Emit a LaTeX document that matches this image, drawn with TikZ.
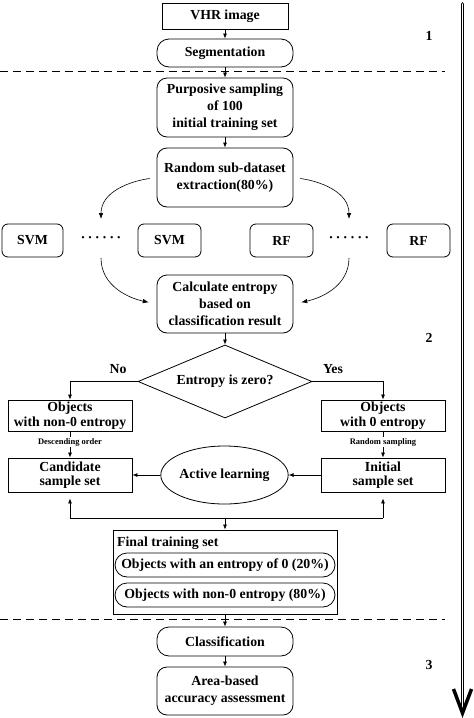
\documentclass[tikz,border=0pt]{standalone}
\usepackage{fontspec}
\setmainfont{Liberation Serif}
\usetikzlibrary{arrows.meta,shapes.geometric,calc}
\newcommand\mfont{\fontsize{13.8}{16.8}\selectfont\bfseries}
\newcommand\tfont{\fontsize{13.8}{14.5}\selectfont\bfseries}
\newcommand\sfont{\fontsize{8.5}{10}\selectfont\bfseries}
\newcommand\dotrow{{\fontsize{8.5}{8.5}\selectfont •\hspace{4.2pt}•\hspace{4.2pt}•\hspace{4.2pt}•\hspace{4.2pt}•\hspace{4.2pt}•}}
\begin{document}
\begin{tikzpicture}[x=1pt,y=-1pt,
  box/.style={draw, line width=0.8pt, font=\mfont, align=center, inner sep=0pt},
  rbox/.style={box, rounded corners=10pt},
  pill/.style={box, rounded corners=12pt},
  arr/.style={-{Latex[length=5pt,width=4pt]}, line width=0.7pt},
  carr/.style={-{Latex[length=6pt,width=4.5pt]}, line width=0.6pt},
  lab/.style={font=\mfont, inner sep=0pt},
  small/.style={font=\sfont, fill=white, inner sep=1pt},
  sep/.style={dash pattern=on 8pt off 5pt, line width=0.8pt}]
\useasboundingbox (0,0) rectangle (474,718);

% separators
\draw[sep] (0,71) -- (445,71);
\draw[sep] (0,619) -- (445,619);

% big side arrow
\draw[double, line width=1.2pt, double distance=1.3pt, line cap=round] (462.5,4) -- (462.5,708);
\draw[line width=3.5pt] (453.5,689) -- (462.5,713) -- (471.5,689);

% phase labels
\node[lab] (p1) at (429,36) {1};
\node[lab] (p2) at (429,338) {2};
\node[lab] (p3) at (429,665) {3};

% nodes
\node[box, minimum width=126pt, minimum height=26pt] (vhr) at (225,16) {VHR image};
\node[pill, minimum width=136pt, minimum height=28pt] (seg) at (225,53) {Segmentation};
\node[rbox, minimum width=136pt, minimum height=59pt] (purp) at (225,107.5) {Purposive sampling\\of 100\\initial training set};
\node[rbox, minimum width=136pt, minimum height=59pt] (rand) at (225,177.5) {Random sub-dataset\\extraction(80\%)};

\node[box, rounded corners=6pt, minimum width=61pt, minimum height=33pt] (svm1) at (32.5,240.5) {SVM};
\node[box, rounded corners=6pt, minimum width=63pt, minimum height=33pt] (svm2) at (169.5,240.5) {SVM};
\node[box, rounded corners=6pt, minimum width=63pt, minimum height=33pt] (rf1) at (281.5,240.5) {RF};
\node[box, rounded corners=6pt, minimum width=63pt, minimum height=33pt] (rf2) at (418.5,240.5) {RF};
\node[lab] (dotsL) at (101,239) {\dotrow};
\node[lab] (dotsR) at (349,239) {\dotrow};

\node[rbox, minimum width=136pt, minimum height=58pt] (calc) at (225,304) {Calculate entropy\\based on\\classification result};
\node[box, diamond, aspect=2.4, minimum width=174pt, minimum height=73pt] (dia) at (225,381.5) {Entropy is zero?};
\node[lab] (no) at (118,369) {No};
\node[lab] (yes) at (333,369) {Yes};

\node[box, font=\tfont, minimum width=124pt, minimum height=31pt] (nz) at (70,415.5) {Objects\\with non-0 entropy};
\node[box, font=\tfont, minimum width=124pt, minimum height=31pt] (z) at (383,415.5) {Objects\\with 0 entropy};
\node[box, font=\tfont, minimum width=124pt, minimum height=34pt] (cand) at (70,475) {Candidate\\sample set};
\node[box, font=\tfont, minimum width=124pt, minimum height=34pt] (init) at (383,475) {Initial\\sample set};
\node[box, ellipse, minimum width=117pt, minimum height=58pt] (al) at (224.5,475) {Active learning};

\node[box, minimum width=224pt, minimum height=84pt] (fin) at (225,572) {};
\node[lab, anchor=west] (fint) at (117,543) {Final training set};
\node[pill, minimum width=220pt, minimum height=24pt] (o1) at (225,565) {Objects with an entropy of 0 (20\%)};
\node[pill, minimum width=220pt, minimum height=24pt] (o2) at (225,595) {Objects with non-0 entropy (80\%)};

\node[pill, minimum width=136pt, minimum height=29pt] (cls) at (225,641.5) {Classification};
\node[rbox, minimum width=136pt, minimum height=48pt] (area) at (225,691) {Area-based\\accuracy assessment};

% coordinates for curved connectors
\coordinate (cLt) at (101,219);
\coordinate (cLb) at (101,258);
\coordinate (cRt) at (349,219);
\coordinate (cRb) at (349,258);
\coordinate (hub) at (225,518);

% connectors
\draw[arr] (vhr) -- (seg);
\draw[arr] (seg) -- (purp);
\draw[arr] (purp) -- (rand);
\draw[carr, shorten <=7pt] (rand.west) to[out=188, in=90] (cLt);
\draw[carr, shorten <=7pt] (rand.east) to[out=-8, in=90] (cRt);
\draw[carr, shorten >=8pt] (cLb) to[out=-90, in=168] (calc.west);
\draw[carr, shorten >=8pt] (cRb) to[out=-90, in=12] (calc.east);
\draw[arr] (calc) -- (dia.north);
\draw[arr] (dia.west) -| (nz.north);
\draw[arr] (dia.east) -| (z.north);
\draw[arr] (nz) -- (cand);
\draw[arr] (z) -- (init);
\node[small] (desc) at (70,442) {Descending order};
\node[small] (rsam) at (383,442) {Random sampling};
\draw[arr] (init) -- (al);
\draw[arr] (al) -- (cand);
\draw[line width=0.7pt] (cand.south |- hub) -- (init.south |- hub);
\draw[arr, shorten >=6pt] (cand.south |- hub) -- (cand.south);
\draw[arr, shorten >=6pt] (init.south |- hub) -- (init.south);
\draw[arr] (hub) -- (fin.north);
\draw[arr] (fin) -- (cls);
\draw[arr] (cls) -- (area);
\end{tikzpicture}
\end{document}
